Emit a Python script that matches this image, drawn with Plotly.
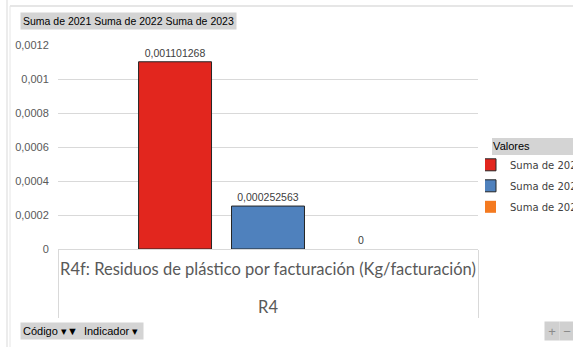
import plotly.graph_objects as go

# Pivot chart data
group_label = "R4"
indicator_label = "R4f: Residuos de plástico por facturación (Kg/facturación)"
series_names = ["Suma de 2021", "Suma de 2022", "Suma de 2023"]
series_values = [0.001101268, 0.000252563, 0.0]
series_colors = ["#e2261e", "#4f81bd", "#f47a20"]
y_ticks = [0, 0.0002, 0.0004, 0.0006, 0.0008, 0.001, 0.0012]

W, H = 573, 347
ML, MR, MT, MB = 58, 95, 45, 98
PW, PH = W - ML - MR, H - MT - MB


def px(x):
    return (x - ML) / PW


def py(y):
    return (H - MB - y) / PH


def fmt(v):
    if v == 0:
        return "0"
    return f"{v:.9f}".rstrip("0").replace(".", ",")


# outer category level sits one line lower, below the indicator name
outer_text = "<br>" + group_label

fig = go.Figure()
for name, val, col in zip(series_names, series_values, series_colors):
    fig.add_trace(go.Bar(
        name=name,
        legendgroup=name,
        x=[[outer_text], [indicator_label]],
        y=[val],
        marker=dict(color=col, line=dict(color="#262626", width=1 if val else 0)),
        text=[fmt(val)],
        textposition="outside",
        textfont=dict(family="Liberation Sans", size=10.5, color="#404040"),
        cliponaxis=False,
    ))

fig.update_layout(
    width=W, height=H,
    margin=dict(l=ML, r=MR, t=MT, b=MB, autoexpand=False),
    paper_bgcolor="white", plot_bgcolor="white",
    barmode="group", bargap=0.336, bargroupgap=0.215,
    separators=",.",
    showlegend=True,
    legend=dict(
        x=px(485), y=py(136), xanchor="left", yanchor="top",
        title=dict(text="\u00a0\u00a0Valores", font=dict(family="Liberation Sans", size=11, color="#000")),
        font=dict(family="DejaVu Sans", size=10, color="#404040"),
        bgcolor="rgba(0,0,0,0)", indentation=-15, itemwidth=30,
        traceorder="grouped", tracegroupgap=2,
    ),
    xaxis=dict(
        type="multicategory", showline=True, linecolor="#d9d9d9", linewidth=1,
        showgrid=False, ticks="", showdividers=True, dividercolor="#d9d9d9", dividerwidth=1,
        tickangle=0, automargin=False, ticklabelstandoff=5,
        tickfont=dict(family="Lato", size=16.5, color="#595959"),
    ),
    yaxis=dict(
        range=[0, 0.0012], tickvals=y_ticks, ticktext=[fmt(v) for v in y_ticks],
        gridcolor="#d9d9d9", gridwidth=1, automargin=False,
        zeroline=False, showline=False, ticks="outside", ticklen=6, tickcolor="white",
        tickfont=dict(family="Liberation Sans", size=11, color="#595959"),
    ),
)

btn = "#d4d4d4"
fig.add_annotation(xref="paper", yref="paper", x=px(20), y=py(21), xanchor="left", yanchor="middle",
                   text="Suma de 2021 Suma de 2022 Suma de 2023", showarrow=False, bgcolor=btn,
                   font=dict(family="Liberation Sans", size=10.5, color="#000"), borderpad=2)
fig.add_annotation(xref="paper", yref="paper", x=px(20), y=py(330.5), xanchor="left", yanchor="middle",
                   text="Código ▾▼  Indicador ▾ ", showarrow=False, bgcolor=btn,
                   font=dict(family="Liberation Sans", size=11, color="#000"), borderpad=2)

# expand / collapse buttons
for cx, sym in ((551.5, "+"), (567, "−")):
    fig.add_annotation(xref="paper", yref="paper", x=px(cx), y=py(331), xanchor="center", yanchor="middle",
                       text=sym, showarrow=False, bgcolor="#d0d0d0", width=12, height=16, borderpad=1,
                       font=dict(family="Liberation Sans", size=13, color="#8a8a8a"))

shapes = [
    # outer frame lines
    dict(type="line", xref="paper", yref="paper", x0=px(7), x1=px(7), y0=py(0), y1=py(347),
         line=dict(color="#d9d9d9", width=1)),
    dict(type="line", xref="paper", yref="paper", x0=px(10), x1=px(10), y0=py(6), y1=py(347),
         line=dict(color="#e6e6e6", width=1)),
    dict(type="line", xref="paper", yref="paper", x0=px(10), x1=px(573), y0=py(6), y1=py(6),
         line=dict(color="#e6e6e6", width=2)),
    # legend title band
    dict(type="rect", xref="paper", yref="paper", x0=px(492), x1=px(574), y0=py(155), y1=py(138),
         fillcolor=btn, line=dict(width=0), layer="below"),
]
fig.update_layout(shapes=shapes)

fig.write_html("out.html")
